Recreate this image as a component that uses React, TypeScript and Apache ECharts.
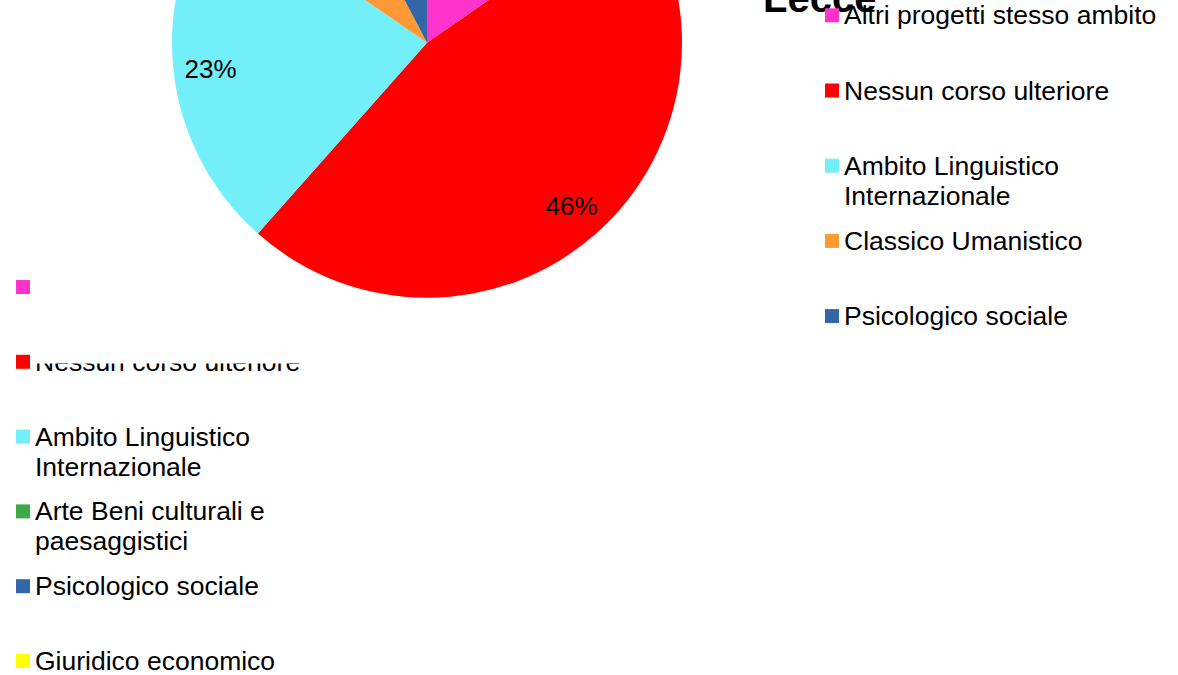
import React, { useEffect, useRef } from "react";
import * as echarts from "echarts";

// ---- data ----
const chartTitle = "Lecce";
const categories = [
  "Altri progetti stesso ambito",
  "Nessun corso ulteriore",
  "Ambito Linguistico Internazionale",
  "Classico Umanistico",
  "Psicologico sociale",
];
const counts = [2, 6, 3, 1, 1];
const colors = ["#FF33CC", "#FF0000", "#72EFF8", "#FF9933", "#3366A6"];
const legendLabels = [
  "Altri progetti stesso ambito",
  "Nessun corso ulteriore",
  "Ambito Linguistico\nInternazionale",
  "Classico Umanistico",
  "Psicologico sociale",
];

// legend of the chart underneath (its pie is not visible)
const otherCategories = [
  "Altri progetti stesso ambito",
  "Nessun corso ulteriore",
  "Ambito Linguistico Internazionale",
  "Arte Beni culturali e paesaggistici",
  "Psicologico sociale",
  "Giuridico economico",
];
const otherColors = ["#FF33CC", "#FF0000", "#72EFF8", "#3DAA4A", "#3366A6", "#FFFF00"];
const otherLegendLabels = [
  "Altri progetti stesso ambito",
  "Nessun corso ulteriore",
  "Ambito Linguistico\nInternazionale",
  "Arte Beni culturali e\npaesaggistici",
  "Psicologico sociale",
  "Giuridico economico",
];

// ---- style / layout ----
const FONT = "'Liberation Sans', Arial, sans-serif";
const LEG_FS = 26.5;
const LH = 30;
const CENTER: [number, number] = [427, 42.7];
const R = 255;

// one legend per item so that the marker sits on the first text line
function makeLegends(
  names: string[],
  labels: string[],
  left: number,
  firstCenter: number,
  step: number,
  z: number
) {
  return names.map((name, i) => {
    const n = labels[i].split("\n").length;
    const text = "\n".repeat(n - 1) + labels[i];
    return {
      data: [name],
      formatter: () => text,
      left,
      top: firstCenter + i * step - ((2 * n - 1) * LH) / 2,
      orient: "vertical",
      padding: 0,
      itemGap: 0,
      itemWidth: 14,
      itemHeight: 14,
      icon: "rect",
      selectedMode: false,
      z,
      textStyle: { fontFamily: FONT, fontSize: LEG_FS, lineHeight: LH, color: "#000" },
    };
  });
}

export default function App() {
  const ref = useRef<HTMLDivElement>(null);
  useEffect(() => {
    const chart = echarts.init(ref.current!, null, { renderer: "svg" });
    const mainData = categories.map((name, i) => ({
      name,
      value: counts[i],
      itemStyle: { color: colors[i] },
    }));
    const option: any = {
      animation: false,
      title: {
        text: chartTitle,
        left: 763,
        top: -22,
        padding: 0,
        z: 3,
        textStyle: { fontFamily: FONT, fontSize: 40, fontWeight: "bold", color: "#000" },
      },
      legend: [
        ...makeLegends(categories, legendLabels, 825, 15.3, 75.2, 4),
        ...makeLegends(otherCategories, otherLegendLabels, 16, 287, 74.8, 0),
      ],
      graphic: {
        elements: [
          {
            type: "rect",
            z: 1,
            silent: true,
            shape: { x: 33, y: 0, width: 1145, height: 363.5 },
            style: { fill: "#ffffff" },
          },
        ],
      },
      series: [
        {
          type: "pie",
          center: CENTER,
          radius: [0, R],
          startAngle: 90,
          clockwise: true,
          z: 2,
          silent: true,
          label: { show: false },
          labelLine: { show: false },
          emphasis: { disabled: true },
          data: mainData,
        },
        {
          type: "pie",
          center: CENTER,
          radius: [175, R],
          startAngle: 90,
          clockwise: true,
          z: 2,
          silent: true,
          itemStyle: { color: "rgba(0,0,0,0)" },
          label: {
            show: true,
            position: "inside",
            formatter: (p: any) => Math.round(p.percent) + "%",
            fontFamily: FONT,
            fontSize: 26,
            color: "#000",
          },
          labelLine: { show: false },
          emphasis: { disabled: true },
          data: categories.map((name, i) => ({
            name,
            value: counts[i],
            itemStyle: { color: "rgba(0,0,0,0)" },
          })),
        },
        {
          type: "pie",
          center: [16, 287],
          radius: 0,
          silent: true,
          z: 0,
          label: { show: false },
          labelLine: { show: false },
          data: otherCategories.map((name, i) => ({
            name,
            itemStyle: { color: otherColors[i] },
          })),
        },
      ],
    };
    chart.setOption(option);
    return () => chart.dispose();
  }, []);
  return (
    <div
      ref={ref}
      style={{ position: "fixed", left: 0, top: 0, width: 1178, height: 675, background: "#fff" }}
    />
  );
}
